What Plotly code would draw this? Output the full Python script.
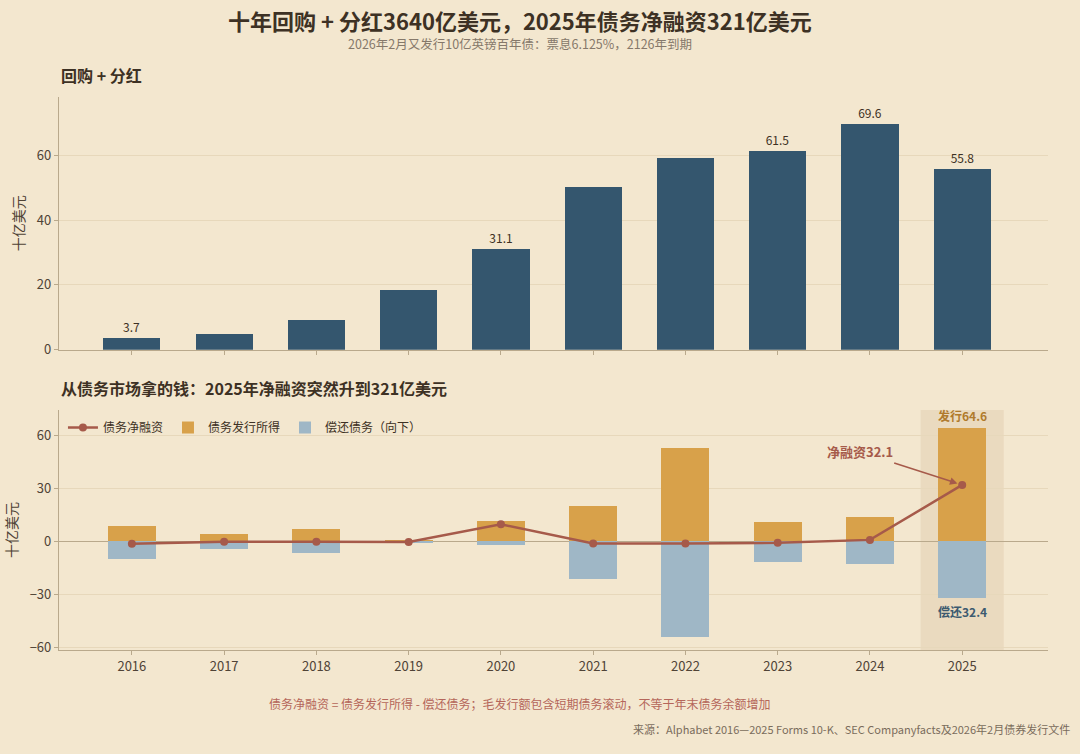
import plotly.graph_objects as go

years = ["2016", "2017", "2018", "2019", "2020", "2021", "2022", "2023", "2024", "2025"]
returns_total = [3.7, 4.9, 9.1, 18.4, 31.1, 50.3, 59.3, 61.5, 69.6, 55.8]
returns_labels = ["3.7", "", "", "", "31.1", "", "", "61.5", "69.6", "55.8"]
debt_issued = [8.7, 4.3, 6.8, 0.3, 11.8, 20.2, 52.9, 10.8, 13.6, 64.6]
debt_repaid = [10.1, 4.4, 6.8, 0.6, 2.1, 21.4, 54.1, 11.6, 12.7, 32.4]
net_financing = [-1.3, -0.1, -0.1, -0.3, 9.7, -1.2, -1.2, -0.8, 0.9, 32.1]

BG = "#f3e7cf"
FONT = "Noto Sans CJK SC"
DARK = "#3d3124"
TICK = "#4f4336"
GRID = "#e7d8bb"
AXIS = "#b9a98c"
NAVY = "#34566e"
ORANGE = "#d8a14a"
BLUE = "#9fb7c6"
RED = "#a65a4a"

H = 754.0
W = 1080.0
ML, MR = 59, 32
PW = W - ML - MR


def py(px):
    return 1 - px / H


def px_x(px):
    return (px - ML) / PW


xs = list(range(len(years)))
fig = go.Figure()

fig.add_trace(go.Bar(
    x=xs, y=returns_total, width=0.62,
    marker=dict(color=NAVY, line=dict(width=0)),
    text=returns_labels, textposition="outside", cliponaxis=False,
    textfont=dict(size=12, color=DARK, family=FONT),
    showlegend=False, xaxis="x", yaxis="y",
))
fig.add_trace(go.Bar(
    x=xs, y=debt_issued, width=0.52, name="债务发行所得", legendrank=2,
    marker=dict(color=ORANGE, line=dict(width=0)), xaxis="x2", yaxis="y2",
))
fig.add_trace(go.Bar(
    x=xs, y=[-v for v in debt_repaid], width=0.52, name="偿还债务（向下）", legendrank=3,
    marker=dict(color=BLUE, line=dict(width=0)), xaxis="x2", yaxis="y2",
))
fig.add_trace(go.Scatter(
    x=xs, y=net_financing, mode="lines+markers", legendrank=1,
    name="债务净融资", line=dict(color=RED, width=2.5),
    marker=dict(color=RED, size=8), xaxis="x2", yaxis="y2",
))

xr = [-0.79, 9.93]
axis_common = dict(showline=True, linecolor=AXIS, linewidth=1.2, ticks="outside",
                   ticklen=4, tickcolor=AXIS, tickfont=dict(size=13, color=TICK, family=FONT))

fig.update_layout(
    autosize=True,
    paper_bgcolor=BG, plot_bgcolor=BG,
    margin=dict(l=ML, r=MR, t=0, b=0),
    barmode="relative", bargap=0,
    font=dict(family=FONT, color=DARK),
    xaxis=dict(domain=[0, 1], anchor="y", range=xr, tickmode="array",
               tickvals=xs, ticktext=years, showticklabels=False,
               showgrid=False, zeroline=False, **axis_common),
    yaxis=dict(domain=[py(354), py(98)], anchor="x", range=[0, 78],
               tickvals=[0, 20, 40, 60], showgrid=True, gridcolor=GRID, gridwidth=1,
               zeroline=False, title=dict(text="十亿美元", font=dict(size=14, color=TICK), standoff=8),
               **axis_common),
    xaxis2=dict(domain=[0, 1], anchor="y2", range=xr, tickmode="array",
                tickvals=xs, ticktext=years,
                showgrid=False, zeroline=False, **axis_common),
    yaxis2=dict(domain=[py(658), py(415)], anchor="x2", range=[-61.7, 74.6],
                tickvals=[-60, -30, 0, 30, 60], showgrid=True, gridcolor=GRID, gridwidth=1,
                zeroline=True, zerolinecolor=AXIS, zerolinewidth=1.2,
                title=dict(text="十亿美元", font=dict(size=14, color=TICK), standoff=8),
                **axis_common),
    legend=dict(orientation="h", x=0.004, y=py(418), xanchor="left", yanchor="top",
                bgcolor="rgba(0,0,0,0)", font=dict(size=12, color=DARK, family=FONT),
                traceorder="normal", itemwidth=30),
)

fig.add_shape(type="rect", xref="x2", yref="paper", x0=8.55, x1=9.45,
              y0=py(658), y1=py(415), fillcolor="rgba(205,175,135,0.22)",
              line=dict(width=0), layer="below")

ann = [
    dict(text="<b>十年回购 + 分红3640亿美元，2025年债务净融资321亿美元</b>", xref="paper", yref="paper",
         x=px_x(520), y=py(20), showarrow=False, font=dict(size=22, color=DARK),
         xanchor="center", yanchor="middle"),
    dict(text="2026年2月又发行10亿英镑百年债：票息6.125%，2126年到期", xref="paper", yref="paper",
         x=px_x(520), y=py(44), showarrow=False, font=dict(size=12.5, color="#85786a"),
         xanchor="center", yanchor="middle"),
    dict(text="<b>回购 + 分红</b>", xref="paper", yref="paper", x=0, y=py(76),
         showarrow=False, font=dict(size=16, color=DARK), xanchor="left", yanchor="middle"),
    dict(text="<b>从债务市场拿的钱：2025年净融资突然升到321亿美元</b>", xref="paper", yref="paper",
         x=0, y=py(393), showarrow=False, font=dict(size=16, color=DARK), xanchor="left", yanchor="middle"),
    dict(text="<b>发行64.6</b>", xref="x2", yref="y2", x=9, y=debt_issued[9], yshift=2,
         showarrow=False, font=dict(size=12, color="#b07a2c"), xanchor="center", yanchor="bottom"),
    dict(text="<b>偿还32.4</b>", xref="x2", yref="y2", x=9, y=-debt_repaid[9], yshift=-2,
         showarrow=False, font=dict(size=12, color="#3d5a70"), xanchor="center", yanchor="top"),
    dict(text="<b>净融资32.1</b>", xref="x2", yref="y2", x=9, y=net_financing[9],
         ax=-102, ay=-33, showarrow=True, arrowhead=2, arrowsize=1, arrowwidth=1.5,
         arrowcolor=RED, standoff=5, font=dict(size=13, color=RED)),
    dict(text="债务净融资 = 债务发行所得 - 偿还债务；毛发行额包含短期债务滚动，不等于年末债务余额增加",
         xref="paper", yref="paper", x=px_x(520), y=py(712), showarrow=False,
         font=dict(size=12, color="#b5665a"), xanchor="center", yanchor="middle"),
    dict(text="来源：Alphabet 2016—2025 Forms 10-K、SEC Companyfacts及2026年2月债券发行文件",
         xref="paper", yref="paper", x=px_x(1072), y=py(738), showarrow=False,
         font=dict(size=11, color="#7a6c5c"), xanchor="right", yanchor="middle"),
]
fig.update_layout(annotations=ann)

post = (
    "document.documentElement.style.margin='0';"
    "document.body.style.margin='0';"
    "document.body.style.overflow='hidden';"
    "document.documentElement.style.overflow='hidden';"
    "document.body.style.background='" + BG + "';"
)
fig.write_html("out.html", config={"displayModeBar": False, "responsive": True},
               default_width="100vw", default_height="100vh", post_script=post)
